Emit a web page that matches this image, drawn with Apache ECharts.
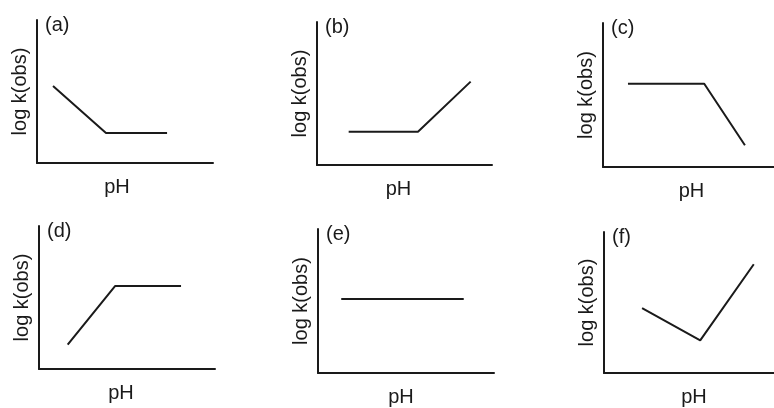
<!DOCTYPE html>
<html>
<head>
<meta charset="utf-8">
<script src="https://cdn.jsdelivr.net/npm/echarts@6/dist/echarts.min.js"></script>
<style>
html,body{margin:0;padding:0;background:#fff;}
#chart{width:774px;height:408px;}
</style>
</head>
<body>
<div id="chart"></div>
<script>
// panel names
var panelNames = ['(a)', '(b)', '(c)', '(d)', '(e)', '(f)'];
// lines in each panel, [pH, log k] on a 0-10 scale
var lineA = [[0.91, 5.38], [3.92, 2.10], [7.39, 2.10]];
var lineB = [[1.81, 2.33], [5.77, 2.33], [8.78, 5.83]];
var lineC = [[1.46, 5.78], [5.92, 5.78], [8.30, 1.51]];
var lineD = [[1.63, 1.70], [4.32, 5.80], [8.07, 5.80]];
var lineE = [[1.32, 5.14], [8.28, 5.14]];
var lineF = [[2.24, 4.60], [5.66, 2.31], [8.81, 7.71]];
var lines = [lineA, lineB, lineC, lineD, lineE, lineF];

// grid boxes in px: left, top, width, height
var boxes = [
	[37, 20, 176, 143],
	[317, 22, 175, 143],
	[603, 23, 171, 144],
	[39, 226, 176, 143],
	[318, 229, 176, 144],
	[604, 232, 170, 144]
];
// pH label is not quite centred under its axis
var phShift = [-8, -6, 3, -6, -5, 5];

var ink = '#1a1a1a';
var font = 'Liberation Sans, Arial, sans-serif';

var grids = [], xAxes = [], yAxes = [], series = [], titles = [];
for (var i = 0; i < 6; i++) {
	var b = boxes[i];
	var s = phShift[i];
	grids.push({left: b[0], top: b[1], width: b[2], height: b[3]});
	xAxes.push({
		type: 'value', gridIndex: i, min: 0, max: 10,
		name: 'pH', nameLocation: 'middle', nameGap: 14,
		nameTextStyle: {
			color: ink, fontSize: 20, fontFamily: font,
			padding: s < 0 ? [0, -2 * s, 0, 0] : [0, 0, 0, 2 * s]
		},
		axisLine: {show: true, lineStyle: {color: ink, width: 2}},
		axisTick: {show: false}, axisLabel: {show: false}, splitLine: {show: false}
	});
	yAxes.push({
		type: 'value', gridIndex: i, min: 0, max: 10,
		name: 'log k(obs)', nameLocation: 'middle', nameGap: 7,
		nameTextStyle: {color: ink, fontSize: 20, fontFamily: font},
		axisLine: {show: true, lineStyle: {color: ink, width: 2}},
		axisTick: {show: false}, axisLabel: {show: false}, splitLine: {show: false}
	});
	series.push({
		type: 'line', xAxisIndex: i, yAxisIndex: i, data: lines[i],
		symbol: 'none', silent: true,
		lineStyle: {color: ink, width: 2}
	});
	titles.push({
		text: panelNames[i], left: b[0] + 3, top: b[1] - 10,
		textStyle: {color: ink, fontSize: 20, fontWeight: 'normal', fontFamily: font}
	});
}

var chart = echarts.init(document.getElementById('chart'));
chart.setOption({
	animation: false,
	backgroundColor: '#fff',
	title: titles,
	grid: grids,
	xAxis: xAxes,
	yAxis: yAxes,
	series: series
});
</script>
</body>
</html>
